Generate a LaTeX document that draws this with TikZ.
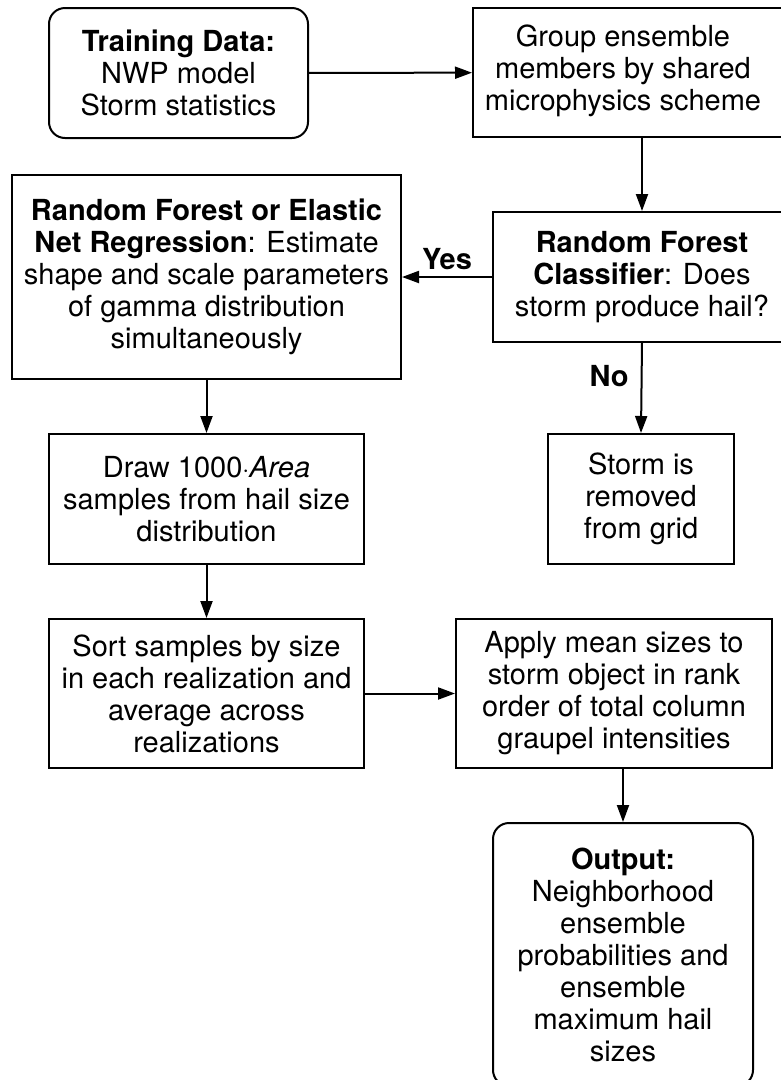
\documentclass[tikz,border=0pt]{standalone}
\usepackage{fontspec}
\setmainfont{TeX Gyre Heros}
\usetikzlibrary{arrows.meta}
\begin{document}
\begin{tikzpicture}[x=1pt,y=-1pt,
  box/.style={draw,line width=2pt,rectangle,align=center,inner sep=0pt,
    font=\fontsize{29}{32}\selectfont},
  rbox/.style={box,rounded corners=16pt},
  flow/.style={line width=2pt,-{Triangle[length=17pt,width=12pt]}},
  lbl/.style={font=\fontsize{29}{32}\selectfont\bfseries,inner sep=0pt}]
\clip (0,0) rectangle (781,1080);
\fill[white] (0,0) rectangle (781,1080);

\node[rbox,minimum width=259pt,minimum height=130pt] (train) at (178.5,73)
  {\textbf{Training Data:}\\NWP model\\Storm statistics};
\node[box,minimum width=338pt,minimum height=129pt] (group) at (642,72.5)
  {\hspace*{-38pt}\begin{tabular}{@{}c@{}}Group ensemble\\members by shared\\microphysics scheme\end{tabular}};
\node[box,minimum width=298pt,minimum height=130pt] (clf) at (642,277)
  {\textbf{Random Forest}\\\textbf{Classifier}: Does\\storm produce hail?};
\node[box,minimum width=389pt,minimum height=204pt] (reg) at (206.5,277)
  {\textbf{Random Forest or Elastic}\\\textbf{Net Regression}: Estimate\\shape and scale parameters\\of gamma distribution\\simultaneously};
\node[box,minimum width=186pt,minimum height=130pt] (gone) at (641,499)
  {Storm is\\removed\\from grid};
\node[box,minimum width=315pt,minimum height=130pt] (draw) at (206.5,499)
  {Draw 1000$\cdot$\textit{Area}\\samples from hail size\\distribution};
\node[box,minimum width=315pt,minimum height=149pt] (sort) at (206.5,693.5)
  {Sort samples by size\\in each realization and\\average across\\realizations};
\node[box,minimum width=316pt,minimum height=149pt] (apply) at (614,693.5)
  {Apply mean sizes to\\storm object in rank\\order of total column\\graupel intensities};
\node[rbox,minimum width=260pt,minimum height=263pt] (out) at (623,954.5)
  {\textbf{Output:}\\Neighborhood\\ensemble\\probabilities and\\ensemble\\maximum hail\\sizes};

\draw[flow] (train) -- (group);
\draw[flow] (group.south) -- (clf.north);
\draw[flow] (clf) -- node[lbl,above=6pt] {Yes} (reg);
\draw[flow] (clf.south) -- node[lbl,left=12pt,pos=0.37] {No} (gone.north);
\draw[flow] (reg.south) -- (draw.north);
\draw[flow] (draw) -- (sort);
\draw[flow] (sort) -- (apply);
\draw[flow] (apply.south -| out.north) -- (out.north);
\end{tikzpicture}
\end{document}
